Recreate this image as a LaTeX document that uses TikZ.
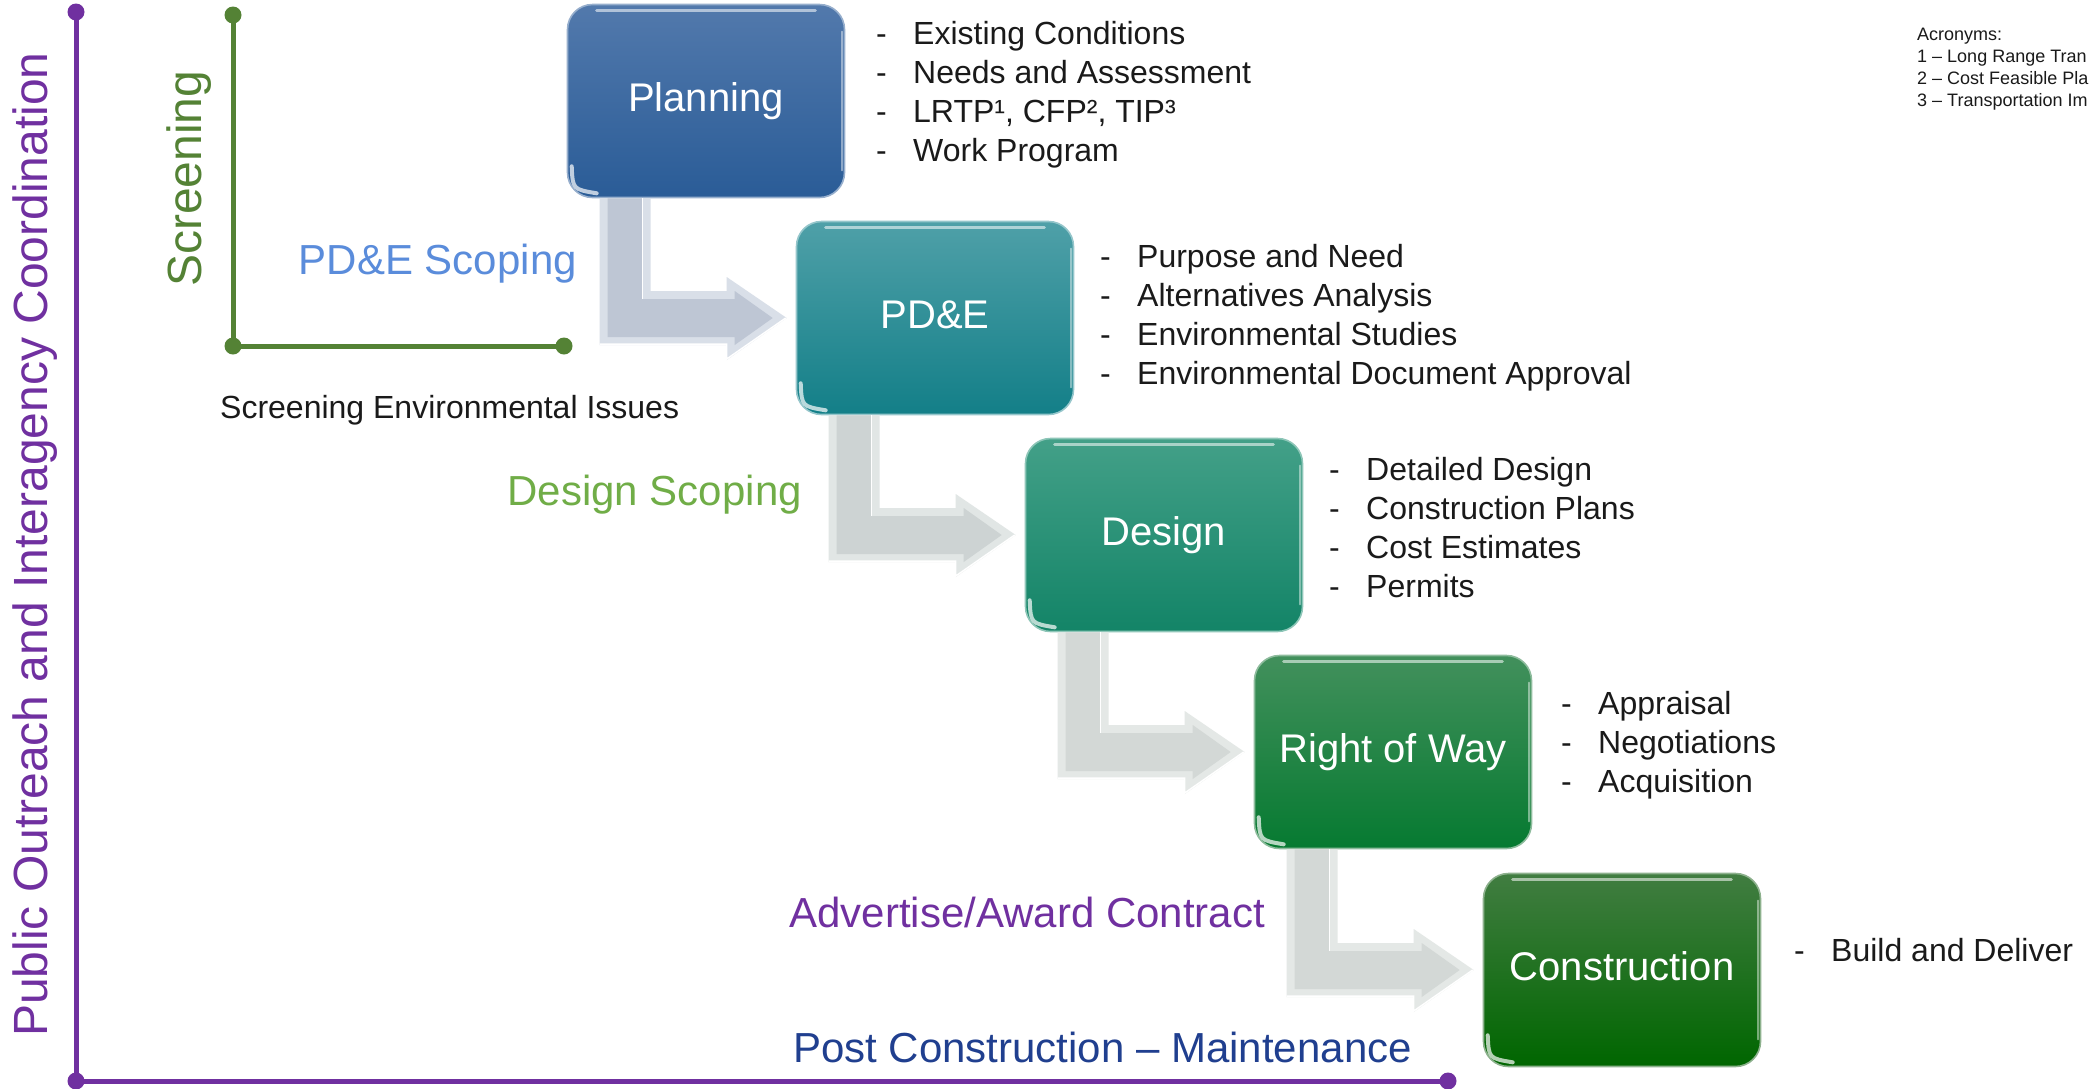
\documentclass[tikz,border=0pt]{standalone}
\usepackage{fontspec}
\setmainfont{Liberation Sans}
\usetikzlibrary{calc}
\definecolor{apurple}{HTML}{7030A0}
\definecolor{agreen}{HTML}{548235}
\definecolor{scopeblue}{HTML}{5A8CDB}
\definecolor{scopegreen}{HTML}{70AD47}
\definecolor{maintblue}{HTML}{203F8F}
\definecolor{txt}{HTML}{1A1A1A}
\definecolor{planT}{HTML}{5279AC}\definecolor{planM}{HTML}{33649E}\definecolor{planB}{HTML}{2A5C97}
\definecolor{pdeT}{HTML}{4FA0A8}\definecolor{pdeM}{HTML}{1E8790}\definecolor{pdeB}{HTML}{137F88}
\definecolor{desT}{HTML}{43A088}\definecolor{desM}{HTML}{1A8C6E}\definecolor{desB}{HTML}{138467}
\definecolor{rowT}{HTML}{42905C}\definecolor{rowM}{HTML}{0E7E3A}\definecolor{rowB}{HTML}{067A31}
\definecolor{conT}{HTML}{417D41}\definecolor{conM}{HTML}{0E6B13}\definecolor{conB}{HTML}{006600}
\definecolor{arRimA}{HTML}{D9DFE8}\definecolor{arFaceA}{HTML}{BEC6D4}
\definecolor{arRimB}{HTML}{E1E6E5}\definecolor{arFaceB}{HTML}{CDD3D3}
\definecolor{arRimC}{HTML}{E4E8E6}\definecolor{arFaceC}{HTML}{D3D8D6}
\newcommand{\bentarrow}[4]{%
  \fill[#3] let \p1=(#1.south west), \p2=(#2.west) in
    (\x1+33pt,\y1) -- (\x1+84pt,\y1) -- (\x1+84pt,\y2+27pt) -- (\x2-69pt,\y2+27pt)
    -- (\x2-69pt,\y2+41pt) -- (\x2-9pt,\y2) -- (\x2-69pt,\y2-42pt) -- (\x2-69pt,\y2-27pt)
    -- (\x1+33pt,\y2-27pt) -- cycle;
  \fill[#4] let \p1=(#1.south west), \p2=(#2.west) in
    (\x1+41pt,\y1) -- (\x1+76pt,\y1) -- (\x1+76pt,\y2+19pt) -- (\x2-61pt,\y2+19pt)
    -- (\x2-61pt,\y2+27pt) -- (\x2-23pt,\y2) -- (\x2-61pt,\y2-27pt) -- (\x2-61pt,\y2-19pt)
    -- (\x1+41pt,\y2-19pt) -- cycle;
  \draw[white, line width=1.5pt] let \p1=(#1.south west), \p2=(#2.west) in
    (\x1+33pt,\y2-26pt) -- (\x2-69pt,\y2-26pt) -- (\x2-69pt,\y2-41pt) -- (\x2-10pt,\y2);
  \draw[white, line width=1.5pt] let \p1=(#1.south west), \p2=(#2.west) in
    (\x1+76pt,\y1) -- (\x1+76pt,\y2+19pt);
}
\newcommand{\gloss}[1]{%
  \draw[sheen] ($(#1.north west)+(30,7)$) -- ($(#1.north east)+(-30,7)$);
  \draw[sheen, line width=2pt, opacity=0.45] ($(#1.north east)+(-3,28)$) -- ($(#1.south east)+(-3,-28)$);
  \draw[sheen, line width=4pt, opacity=0.7] ($(#1.south west)+(5,-32)$) .. controls ($(#1.south west)+(6,-9)$) .. ($(#1.south west)+(30,-5)$);
}
\begin{document}
\begin{tikzpicture}[x=1pt,y=-1pt,
  stagebox/.style={rounded corners=25pt, minimum width=277pt, minimum height=193pt,
    inner sep=0pt, text=white, font=\fontsize{40}{48}\selectfont,
    text height=29pt, text depth=8pt, line width=1.6pt},
  listitem/.style={anchor=base west, inner sep=0pt, text=txt, font=\fontsize{32}{39}\selectfont},
  phase/.style={anchor=base east, inner sep=0pt, font=\fontsize{42}{50}\selectfont},
  acro/.style={anchor=base west, inner sep=0pt, text=txt, font=\fontsize{18}{22}\selectfont},
  sheen/.style={white, line cap=round, opacity=0.55, line width=3pt},
  dotend/.style={circle, inner sep=0pt, minimum size=17pt},
]
\useasboundingbox (0,0) rectangle (2093,1088);
\fill[white] (0,0) rectangle (2093,1088);

% ---------- axes
\node[dotend, fill=apurple] (ptop) at (76,12) {};
\node[dotend, fill=apurple] (pcorner) at (76,1081) {};
\node[dotend, fill=apurple] (pend) at (1448,1081) {};
\draw[apurple, line width=5pt] (ptop.center) -- (pcorner.center) -- (pend.center);
\node[dotend, fill=agreen] (gtop) at (233,15) {};
\node[dotend, fill=agreen] (gcorner) at (233,346) {};
\node[dotend, fill=agreen] (gend) at (564,346) {};
\draw[agreen, line width=5pt] (gtop.center) -- (gcorner.center) -- (gend.center);

\node[rotate=90, anchor=base west, inner sep=0pt, text=apurple, font=\fontsize{48}{56}\selectfont]
  (outreach) at (47,1037) {Public Outreach and Interagency Coordination};
\node[rotate=90, anchor=base west, inner sep=0pt, text=agreen, font=\fontsize{48}{56}\selectfont]
  (screening) at (201,287) {Screening};
\node[anchor=base west, inner sep=0pt, text=txt, font=\fontsize{32}{39}\selectfont]
  (envissues) at (220,418) {Screening Environmental Issues};

% ---------- stage boxes
\node[stagebox, top color=planT, middle color=planM, bottom color=planB, draw=planT!60!white] (plan) at (706,101) {Planning};
\node[stagebox, top color=pdeT, middle color=pdeM, bottom color=pdeB, draw=pdeT!60!white] (pde) at (935,318) {PD\&E};
\node[stagebox, top color=desT, middle color=desM, bottom color=desB, draw=desT!60!white] (design) at (1164,535) {Design};
\node[stagebox, top color=rowT, middle color=rowM, bottom color=rowB, draw=rowT!60!white] (row) at (1393,752) {Right of Way};
\node[stagebox, top color=conT, middle color=conM, bottom color=conB, draw=conT!60!white] (constr) at (1622,970) {Construction};
\gloss{plan}\gloss{pde}\gloss{design}\gloss{row}\gloss{constr}

% ---------- bent arrows between stages
\bentarrow{plan}{pde}{arRimA}{arFaceA}
\bentarrow{pde}{design}{arRimB}{arFaceB}
\bentarrow{design}{row}{arRimC}{arFaceC}
\bentarrow{row}{constr}{arRimC}{arFaceC}

% ---------- phase labels
\node[phase, text=scopeblue] (pdescope) at (577,274) {PD\&E Scoping};
\node[phase, text=scopegreen] (desscope) at (802,505) {Design Scoping};
\node[phase, text=apurple] (advert) at (1265,927) {Advertise/Award Contract};
\node[phase, text=maintblue] (maint) at (1412,1062) {Post Construction – Maintenance};

% ---------- task lists
\foreach \t [count=\i] in {Existing Conditions, Needs and Assessment, {LRTP¹, CFP², TIP³}, Work Program}
  \node[listitem] (planitem\i) at (876,5+39*\i) {\makebox[37pt][l]{-}\t};
\foreach \t [count=\i] in {Purpose and Need, Alternatives Analysis, Environmental Studies, Environmental Document Approval}
  \node[listitem] (pdeitem\i) at (1100,228+39*\i) {\makebox[37pt][l]{-}\t};
\foreach \t [count=\i] in {Detailed Design, Construction Plans, Cost Estimates, Permits}
  \node[listitem] (desitem\i) at (1329,441+39*\i) {\makebox[37pt][l]{-}\t};
\foreach \t [count=\i] in {Appraisal, Negotiations, Acquisition}
  \node[listitem] (rowitem\i) at (1561,675+39*\i) {\makebox[37pt][l]{-}\t};
\node[listitem] (conitem1) at (1794,961) {\makebox[37pt][l]{-}Build and Deliver};

% ---------- acronyms (cut by the right edge)
\begin{scope}
\clip (0,0) rectangle (2093,1088);
\node[acro] (acr0) at (1917,40) {Acronyms:};
\node[acro] (acr1) at (1917,62) {1 – Long Range Tran};
\node[acro] (acr2) at (1917,84) {2 – Cost Feasible Pla};
\node[acro] (acr3) at (1917,106) {3 – Transportation Im};
\end{scope}
\end{tikzpicture}
\end{document}
